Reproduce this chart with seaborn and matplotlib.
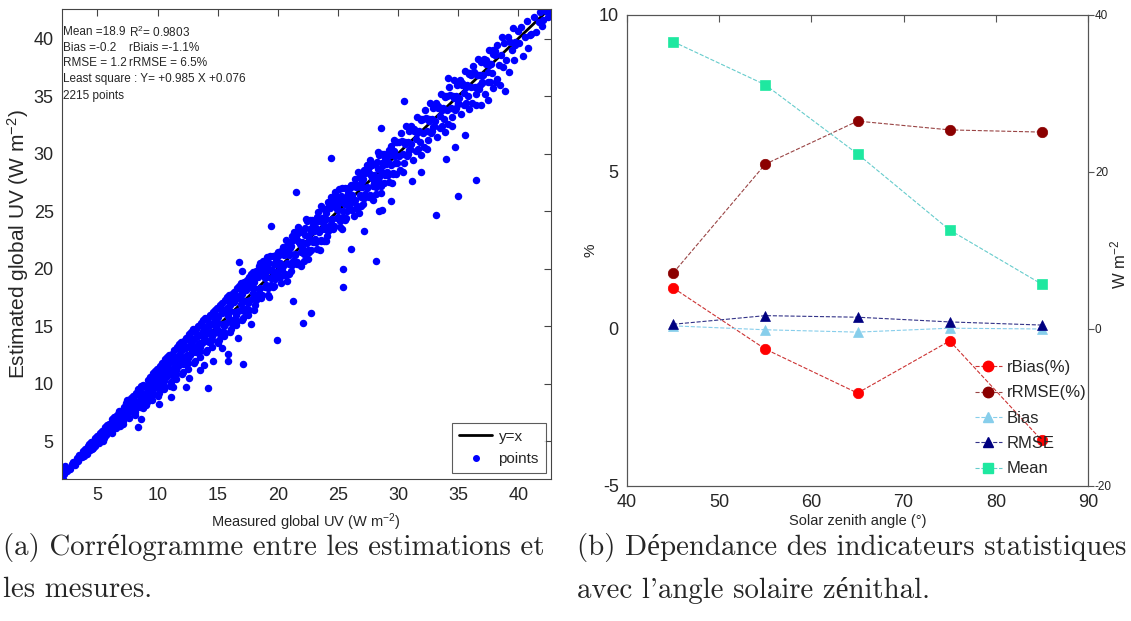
import matplotlib
matplotlib.use("Agg")
import matplotlib.pyplot as plt
import seaborn as sns
from matplotlib import font_manager
from matplotlib.lines import Line2D

sns.set_style("white")
installed = {f.name for f in font_manager.fontManager.ttflist}
sans = "Liberation Sans Narrow" if "Liberation Sans Narrow" in installed else "Liberation Sans"
plt.rcParams["font.family"] = [sans, "Liberation Sans", "DejaVu Sans"]
plt.rcParams["mathtext.default"] = "regular"
plt.rcParams["axes.unicode_minus"] = False

# ---- (a) measured vs estimated global UV (W m-2) ----
measured_uv = [
    2.0, 2.2, 2.3, 2.5, 2.7, 2.9,
    3.0, 3.1, 3.3, 3.4, 3.5, 3.7, 3.8, 3.9,
    4.0, 4.1, 4.2, 4.4, 4.5, 4.6, 4.7, 4.8, 4.9, 4.95,
    5.0, 5.1, 5.2, 5.3, 5.4, 5.5, 5.6, 5.7, 5.8, 5.9, 5.45, 5.75,
    6.0, 6.1, 6.2, 6.3, 6.4, 6.5, 6.6, 6.7, 6.8, 6.9, 6.25, 6.55, 6.85,
    7.0, 7.1, 7.2, 7.3, 7.4, 7.5, 7.6, 7.7, 7.8, 7.9, 7.15, 7.45, 7.65, 7.95,
    8.0, 8.1, 8.2, 8.3, 8.4, 8.5, 8.6, 8.7, 8.8, 8.9, 8.15, 8.45, 8.75, 8.35,
    9.0, 9.1, 9.2, 9.3, 9.4, 9.5, 9.6, 9.7, 9.8, 9.9, 9.05, 9.35, 9.55, 9.75, 9.95,
    10.0, 10.1, 10.2, 10.3, 10.4, 10.5, 10.6, 10.7, 10.8, 10.9, 10.05, 10.35, 10.55, 10.75, 10.95,
    11.0, 11.1, 11.2, 11.3, 11.4, 11.5, 11.6, 11.7, 11.8, 11.9, 11.05, 11.35, 11.55, 11.75, 11.95,
    12.0, 12.1, 12.2, 12.3, 12.4, 12.5, 12.6, 12.7, 12.8, 12.9, 12.05, 12.35, 12.55, 12.75, 12.95,
    13.0, 13.1, 13.2, 13.3, 13.4, 13.5, 13.6, 13.7, 13.8, 13.9, 13.05, 13.35, 13.55, 13.75, 13.95,
    14.0, 14.1, 14.2, 14.3, 14.4, 14.5, 14.6, 14.7, 14.8, 14.9, 14.05, 14.35, 14.55, 14.75, 14.95,
    15.0, 15.1, 15.2, 15.3, 15.4, 15.5, 15.6, 15.7, 15.8, 15.9, 15.05, 15.35, 15.55, 15.75, 15.95,
    16.0, 16.1, 16.2, 16.3, 16.4, 16.5, 16.6, 16.7, 16.8, 16.9, 16.05, 16.35, 16.55, 16.75, 16.95,
    17.0, 17.1, 17.2, 17.3, 17.4, 17.5, 17.6, 17.7, 17.8, 17.9, 17.05, 17.35, 17.55, 17.75, 17.95,
    18.0, 18.1, 18.2, 18.3, 18.4, 18.5, 18.6, 18.7, 18.8, 18.9, 18.05, 18.35, 18.55, 18.75, 18.95,
    19.02, 19.12, 19.18, 19.27, 19.38, 19.46, 19.58, 19.63, 19.71, 19.84, 19.93, 19.09, 19.31, 19.52, 19.77,
    20.0, 20.1, 20.2, 20.3, 20.4, 20.5, 20.6, 20.7, 20.8, 20.9, 20.05, 20.35, 20.55, 20.75, 20.95,
    21.02, 21.12, 21.18, 21.27, 21.38, 21.46, 21.58, 21.63, 21.71, 21.84, 21.93, 21.09, 21.31, 21.52, 21.77,
    22.0, 22.1, 22.2, 22.3, 22.4, 22.5, 22.6, 22.7, 22.8, 22.9, 22.05, 22.35, 22.55, 22.75, 22.95,
    23.02, 23.12, 23.18, 23.27, 23.38, 23.46, 23.58, 23.63, 23.71, 23.84, 23.93, 23.09, 23.31, 23.52, 23.77,
    24.0, 24.1, 24.2, 24.3, 24.4, 24.5, 24.6, 24.7, 24.8, 24.9, 24.05, 24.35, 24.55, 24.75, 24.95,
    25.02, 25.12, 25.18, 25.27, 25.38, 25.46, 25.58, 25.63, 25.71, 25.84, 25.93, 25.09, 25.31, 25.52, 25.77,
    26.0, 26.1, 26.2, 26.3, 26.4, 26.5, 26.6, 26.7, 26.8, 26.9, 26.05, 26.35, 26.55, 26.75, 26.95,
    27.02, 27.12, 27.18, 27.27, 27.38, 27.46, 27.58, 27.63, 27.71, 27.84, 27.93, 27.09, 27.31, 27.52, 27.77,
    28.0, 28.1, 28.2, 28.3, 28.4, 28.5, 28.6, 28.7, 28.8, 28.9, 28.05, 28.35, 28.55, 28.75, 28.95,
    29.02, 29.12, 29.18, 29.27, 29.38, 29.46, 29.58, 29.63, 29.71, 29.84, 29.93, 29.09, 29.31, 29.52, 29.77,
    30.05, 30.15, 30.25, 30.38, 30.45, 30.55, 30.68, 30.77, 30.85, 30.95,
    31.0, 31.12, 31.22, 31.33, 31.48, 31.58, 31.63, 31.72, 31.88, 31.92,
    32.05, 32.15, 32.25, 32.38, 32.45, 32.55, 32.68, 32.77, 32.85, 32.95,
    33.0, 33.12, 33.22, 33.33, 33.48, 33.58, 33.63, 33.72, 33.88, 33.92,
    34.05, 34.15, 34.25, 34.38, 34.45, 34.55, 34.68, 34.77, 34.85, 34.95,
    35.0, 35.12, 35.22, 35.33, 35.48, 35.58, 35.63, 35.72, 35.88, 35.92,
    36.05, 36.15, 36.25, 36.38, 36.45, 36.55, 36.68, 36.77, 36.85, 36.95,
    37.0, 37.12, 37.22, 37.33, 37.48, 37.58, 37.63, 37.72, 37.88, 37.92,
    38.05, 38.15, 38.25, 38.38, 38.45, 38.55, 38.68, 38.77,
    39.0, 39.12, 39.22, 39.33, 39.48, 39.58, 39.63, 39.72,
    40.1, 40.25, 40.4, 40.55, 40.7, 40.85, 40.95,
    41.1, 41.3, 41.5, 41.7, 41.85, 41.95,
    42.1, 42.3, 42.5, 42.65,
]
estimated_uv = [
    2.2, 2.1, 2.5, 2.4, 2.6, 3.0,
    3.2, 2.9, 3.5, 3.3, 3.8, 3.6, 4.1, 3.7,
    4.3, 3.9, 4.6, 4.2, 4.9, 4.4, 5.0, 4.6, 5.3, 4.8,
    5.4, 4.8, 5.7, 5.1, 5.9, 5.3, 6.2, 5.5, 6.4, 5.8, 5.0, 6.0,
    6.5, 5.8, 6.9, 6.1, 7.1, 6.4, 7.3, 6.6, 7.5, 6.9, 5.7, 7.0, 6.3,
    7.6, 6.7, 8.0, 7.2, 8.3, 7.4, 8.5, 7.6, 8.7, 7.9, 6.5, 8.6, 7.0, 8.9,
    8.6, 7.5, 9.2, 8.1, 9.5, 8.3, 9.8, 8.6, 9.9, 8.9, 7.3, 9.0, 7.9, 9.3,
    9.7, 8.4, 10.3, 9.0, 10.6, 9.3, 10.9, 9.6, 11.1, 10.0, 8.1, 10.0, 8.6, 10.4, 11.3,
    10.8, 9.2, 11.5, 9.9, 11.8, 10.2, 12.1, 10.6, 12.3, 11.0, 8.9, 10.9, 9.5, 11.4, 12.5,
    11.9, 10.1, 12.6, 10.8, 12.9, 11.2, 13.2, 11.5, 13.4, 12.0, 9.8, 12.0, 10.4, 12.5, 13.6,
    12.9, 11.0, 13.7, 11.8, 14.0, 12.2, 14.3, 12.5, 14.5, 13.0, 10.8, 13.1, 11.3, 13.6, 14.7,
    13.9, 12.0, 14.7, 12.7, 15.0, 13.2, 15.3, 13.5, 15.5, 14.0, 11.8, 14.1, 12.3, 14.6, 15.7,
    14.8, 12.9, 15.7, 13.6, 16.0, 14.1, 16.2, 14.4, 16.4, 14.9, 12.7, 15.1, 13.2, 15.6, 16.6,
    15.8, 13.8, 16.8, 14.5, 17.0, 15.0, 17.3, 15.3, 17.5, 15.9, 13.5, 16.1, 14.1, 16.6, 17.7,
    16.8, 14.7, 17.8, 15.5, 18.0, 16.0, 18.3, 16.3, 18.5, 16.9, 14.5, 17.1, 15.1, 17.6, 18.7,
    17.8, 15.7, 18.8, 16.5, 19.0, 17.0, 19.3, 17.3, 19.5, 17.9, 15.5, 18.1, 16.0, 18.6, 19.7,
    18.8, 16.8, 19.8, 17.7, 20.2, 18.3, 20.0, 17.7, 20.7, 19.2, 16.4, 19.3, 17.8, 20.0, 19.5,
    18.6, 20.3, 17.7, 19.9, 21.1, 18.6, 19.7, 21.1, 18.5, 20.7, 19.7, 21.0, 17.5, 19.9, 19.1,
    21.1, 19.3, 20.5, 18.7, 21.9, 21.2, 19.5, 22.5, 20.5, 19.5, 21.4, 19.9, 21.4, 18.9, 21.2,
    21.8, 19.8, 22.8, 20.7, 23.2, 21.3, 23.0, 20.6, 23.6, 22.1, 20.2, 22.0, 20.5, 22.7, 22.3,
    21.6, 23.3, 20.7, 22.9, 24.1, 21.6, 22.7, 24.2, 21.6, 23.8, 21.9, 24.3, 20.8, 23.2, 22.3,
    24.1, 22.3, 23.5, 21.7, 24.9, 24.2, 22.5, 25.4, 23.4, 22.4, 25.2, 22.6, 24.1, 21.6, 24.0,
    24.8, 22.8, 25.8, 23.7, 26.2, 24.3, 26.0, 23.7, 26.7, 25.2, 22.4, 25.3, 23.8, 26.0, 25.5,
    24.5, 26.2, 23.6, 25.8, 27.0, 24.5, 25.6, 27.0, 24.4, 26.6, 25.6, 26.9, 23.4, 25.8, 25.0,
    27.0, 25.2, 26.4, 24.6, 27.8, 27.1, 25.4, 28.4, 26.4, 25.4, 27.3, 25.8, 27.3, 24.8, 27.1,
    27.6, 25.6, 28.6, 26.5, 29.0, 27.1, 28.8, 26.4, 29.4, 27.9, 26.0, 27.8, 26.3, 28.5, 28.1,
    27.4, 29.1, 26.5, 28.7, 29.9, 27.4, 28.5, 30.0, 27.4, 29.6, 27.7, 30.1, 26.6, 29.0, 28.1,
    29.9, 28.1, 29.3, 27.5, 30.7, 30.0, 28.3, 31.2, 29.2, 28.2, 31.0, 28.4, 29.9, 27.4, 29.8,
    31.0, 28.6, 31.8, 30.0, 28.4, 31.0, 32.4, 29.8, 31.0, 30.3,
    30.4, 32.4, 29.4, 32.0, 31.3, 33.2, 30.4, 32.0, 29.9, 32.9,
    33.0, 30.6, 33.8, 32.0, 30.4, 33.0, 34.4, 31.8, 33.0, 32.3,
    32.4, 34.4, 31.4, 34.0, 33.3, 35.2, 32.4, 34.0, 31.9, 34.9,
    35.0, 32.6, 35.8, 34.0, 32.4, 35.0, 36.4, 33.8, 35.0, 34.3,
    34.4, 36.4, 33.4, 36.0, 35.3, 37.2, 34.4, 36.0, 33.9, 36.9,
    36.8, 34.4, 37.6, 35.8, 34.2, 36.8, 38.2, 35.6, 36.8, 36.1,
    36.2, 38.2, 35.2, 37.8, 37.1, 39.0, 36.2, 37.8, 35.7, 38.7,
    38.6, 36.2, 39.4, 37.7, 36.0, 38.6, 40.1, 37.5,
    38.1, 40.1, 37.1, 39.7, 39.0, 40.9, 38.1, 39.7,
    39.6, 41.0, 38.5, 40.1, 41.5, 39.2, 40.3,
    40.4, 41.9, 40.6, 41.4, 42.3, 41.1,
    41.6, 42.4, 41.9, 42.2,
]
# extra points filling the dense core of the band
core_measured = [
    4.03, 4.16, 4.29, 4.42, 4.57, 4.69, 4.82, 4.91,
    5.03, 5.16, 5.29, 5.42, 5.57, 5.69, 5.82, 5.91,
    6.03, 6.16, 6.29, 6.42, 6.57, 6.69, 6.82, 6.91,
    7.03, 7.16, 7.29, 7.42, 7.57, 7.69, 7.82, 7.91,
    8.03, 8.16, 8.29, 8.42, 8.57, 8.69, 8.82, 8.91,
    9.03, 9.16, 9.29, 9.42, 9.57, 9.69, 9.82, 9.91,
    10.03, 10.16, 10.29, 10.42, 10.57, 10.69, 10.82, 10.91,
    11.03, 11.16, 11.29, 11.42, 11.57, 11.69, 11.82, 11.91,
    12.03, 12.16, 12.29, 12.42, 12.57, 12.69, 12.82, 12.91,
    13.03, 13.16, 13.29, 13.42, 13.57, 13.69, 13.82, 13.91,
    14.03, 14.16, 14.29, 14.42, 14.57, 14.69, 14.82, 14.91,
    15.03, 15.16, 15.29, 15.42, 15.57, 15.69, 15.82, 15.91,
    16.03, 16.16, 16.29, 16.42, 16.57, 16.69, 16.82, 16.91,
    17.03, 17.16, 17.29, 17.42, 17.57, 17.69, 17.82, 17.91,
    18.03, 18.16, 18.29, 18.42, 18.57, 18.69, 18.82, 18.91,
    19.03, 19.16, 19.29, 19.42, 19.57, 19.69, 19.82, 19.91,
    20.03, 20.16, 20.29, 20.42, 20.57, 20.69, 20.82, 20.91,
    21.03, 21.16, 21.29, 21.42, 21.57, 21.69, 21.82, 21.91,
    22.03, 22.16, 22.29, 22.42, 22.57, 22.69, 22.82, 22.91,
    23.03, 23.16, 23.29, 23.42, 23.57, 23.69, 23.82, 23.91,
    24.03, 24.16, 24.29, 24.42, 24.57, 24.69, 24.82, 24.91,
    25.03, 25.16, 25.29, 25.42, 25.57, 25.69, 25.82, 25.91,
    26.03, 26.16, 26.29, 26.42, 26.57, 26.69, 26.82, 26.91,
    27.03, 27.16, 27.29, 27.42, 27.57, 27.69, 27.82, 27.91,
    28.03, 28.16, 28.29, 28.42, 28.57, 28.69, 28.82, 28.91,
    29.03, 29.16, 29.29, 29.42, 29.57, 29.69, 29.82, 29.91,
    30.1, 30.3, 30.5, 30.62, 30.8, 30.9,
    31.1, 31.3, 31.5, 31.62, 31.8, 31.9,
    32.1, 32.3, 32.5, 32.62, 32.8, 32.9,
    33.1, 33.3, 33.5, 33.62, 33.8, 33.9,
    34.1, 34.3, 34.5, 34.62, 34.8, 34.9,
    35.1, 35.3, 35.5, 35.62, 35.8, 35.9,
    36.1, 36.3, 36.5, 36.62, 36.8, 36.9,
    37.1, 37.3, 37.5, 37.62, 37.8, 37.9,
]
core_estimated = [
    4.1, 4.0, 4.7, 4.4, 4.3, 5.0, 5.3, 4.8,
    5.1, 5.0, 5.7, 5.4, 5.3, 6.0, 6.3, 5.8,
    6.2, 5.9, 6.9, 6.4, 6.1, 7.1, 7.6, 6.8,
    7.2, 6.9, 7.9, 7.4, 7.1, 8.1, 8.6, 7.8,
    8.2, 7.8, 9.1, 8.5, 8.0, 9.2, 9.8, 8.7,
    9.2, 8.8, 10.1, 9.5, 9.0, 10.2, 10.8, 9.7,
    10.3, 9.7, 11.3, 10.5, 9.8, 11.3, 12.0, 10.7,
    11.3, 10.7, 12.3, 11.5, 10.8, 12.3, 13.0, 11.7,
    12.3, 11.7, 13.3, 12.5, 11.8, 13.3, 14.0, 12.7,
    13.3, 12.7, 14.3, 13.5, 12.8, 14.3, 15.0, 13.7,
    14.3, 13.7, 15.3, 14.5, 13.8, 15.3, 16.0, 14.7,
    15.3, 14.3, 16.5, 15.2, 14.4, 16.4, 17.2, 15.4,
    16.3, 15.3, 17.5, 16.2, 15.4, 17.4, 18.2, 16.4,
    17.3, 16.3, 18.5, 17.2, 16.4, 18.4, 19.2, 17.4,
    18.3, 17.3, 19.5, 18.2, 17.4, 19.4, 20.2, 18.4,
    19.3, 18.3, 20.5, 19.2, 18.4, 20.4, 21.2, 19.4,
    20.3, 19.3, 21.5, 20.2, 19.4, 21.4, 22.2, 20.4,
    21.3, 20.3, 22.5, 21.2, 20.4, 22.4, 23.2, 21.4,
    22.3, 21.3, 23.5, 22.2, 21.4, 23.4, 24.2, 22.4,
    23.3, 22.3, 24.5, 23.2, 22.4, 24.4, 25.2, 23.4,
    24.3, 23.3, 25.5, 24.2, 23.4, 25.4, 26.2, 24.4,
    25.1, 24.1, 26.3, 25.0, 24.2, 26.2, 27.0, 25.2,
    26.1, 25.1, 27.3, 26.0, 25.2, 27.2, 28.0, 26.2,
    27.1, 26.1, 28.3, 27.0, 26.2, 28.2, 29.0, 27.2,
    28.1, 27.1, 29.3, 28.0, 27.2, 29.2, 30.0, 28.2,
    29.1, 28.1, 30.3, 29.0, 28.2, 30.2, 31.0, 29.2,
    29.8, 31.1, 29.2, 30.8, 30.0, 32.0,
    30.8, 32.1, 30.2, 31.8, 31.0, 33.0,
    31.8, 33.1, 31.2, 32.8, 32.0, 34.0,
    32.8, 34.1, 32.2, 33.8, 33.0, 35.0,
    33.8, 35.1, 33.2, 34.8, 34.0, 36.0,
    34.8, 36.1, 34.2, 35.8, 35.0, 37.0,
    35.8, 37.1, 35.2, 36.8, 36.0, 38.0,
    36.8, 38.1, 36.2, 37.8, 37.0, 39.0,
]
# isolated points away from the main band
outlier_measured = [
    2.1, 2.3, 2.0, 8.4, 8.6, 10.1, 11.1, 11.3, 12.4, 12.6, 13.5, 13.9, 14.2, 14.6,
    15.4, 15.9, 15.9, 16.7, 17.1, 17.8, 24.4, 21.5, 19.4, 16.8, 17.0, 18.5, 19.9,
    22.1, 22.8, 25.4, 25.4, 28.2, 21.3, 26.1, 28.4, 27.2, 28.6, 30.5, 34.2, 36.5,
    35.0, 33.2, 38.9, 40.0, 34.7, 35.6, 34.0, 31.9, 31.2, 29.4, 28.7, 37.5, 36.9,
    38.2, 38.8, 38.1, 39.7, 37.6, 36.6, 35.9,
]
outlier_estimated = [
    1.7, 2.8, 2.6, 6.2, 6.9, 8.2, 8.8, 9.7, 9.7, 10.5, 11.2, 11.6, 9.6, 12.0,
    13.1, 12.6, 12.0, 14.0, 11.7, 15.2, 29.6, 26.7, 23.7, 20.6, 19.8, 20.5, 13.8,
    15.3, 16.1, 18.4, 20.0, 20.7, 17.2, 21.7, 25.0, 23.3, 32.2, 34.6, 36.6, 27.7,
    26.3, 24.7, 35.4, 40.7, 30.6, 31.6, 29.5, 28.4, 27.6, 25.9, 25.1, 34.7, 34.2,
    36.5, 39.6, 38.9, 39.4, 37.7, 35.8, 37.0,
]
stats_left = ["Mean =18.9", "Bias =-0.2", "RMSE = 1.2",
              "Least square : Y= +0.985 X +0.076", "2215 points"]
stats_right = ["R$^2$= 0.9803", "rBiais =-1.1%", "rRMSE = 6.5%"]
legend_a_labels = ["y=x", "points"]

# ---- (b) statistics versus solar zenith angle ----
zenith_angle = [45, 55, 65, 75, 85]
rbias_pct = [1.31, -0.64, -2.04, -0.38, -3.55]
rrmse_pct = [1.78, 5.25, 6.62, 6.34, 6.27]
bias_wm2 = [0.4, -0.1, -0.4, 0.1, 0.0]
rmse_wm2 = [0.6, 1.7, 1.5, 0.9, 0.5]
mean_wm2 = [36.6, 31.1, 22.3, 12.6, 5.7]

caption_a = ["(a) Corrélogramme entre les estimations et", "les mesures."]
caption_b = ["(b) Dépendance des indicateurs statistiques", "avec l'angle solaire zénithal."]

fig = plt.figure(figsize=(11.31, 6.21), dpi=100)

# panel (a)
ax_a = fig.add_axes([0.0548, 0.2287, 0.4321, 0.7564])
all_x = measured_uv + core_measured + outlier_measured
all_y = estimated_uv + core_estimated + outlier_estimated
sns.scatterplot(x=all_x, y=all_y, ax=ax_a, color="#0000ff", s=29, linewidth=0,
                zorder=2, legend=False)
ax_a.axline((0, 0), slope=1, color="black", linewidth=2, zorder=1)
ax_a.set_xlim(2.05, 42.7)
ax_a.set_ylim(1.7, 42.55)
ax_a.set_xticks(range(5, 45, 5))
ax_a.set_yticks(range(5, 45, 5))
ax_a.tick_params(direction="in", top=True, right=True, length=5, width=0.8,
                 color="#444444", labelsize=13, pad=6)
for sp in ax_a.spines.values():
    sp.set_color("#444444")
    sp.set_linewidth(0.8)
ax_a.set_xlabel("Measured global UV (W m$^{-2}$)", fontsize=10.5)
ax_a.set_ylabel("Estimated global UV (W m$^{-2}$)", fontsize=15)
ax_a.xaxis.set_label_coords(0.5, -0.07)
ax_a.yaxis.set_label_coords(-0.063, 0.5)

line_rows = [0.951, 0.917, 0.885, 0.851, 0.815]
for txt, yy in zip(stats_left, line_rows):
    ax_a.text(0.003, yy, txt, transform=ax_a.transAxes, fontsize=8.5, va="center", ha="left")
for txt, yy in zip(stats_right, line_rows):
    ax_a.text(0.137, yy, txt, transform=ax_a.transAxes, fontsize=8.5, va="center", ha="left")

handles_a = [Line2D([], [], color="black", lw=2),
             Line2D([], [], color="#0000ff", marker="o", ls="none", markersize=4)]
leg_a = ax_a.legend(handles_a, legend_a_labels, loc="lower right", bbox_to_anchor=(0.99, 0.013),
                    borderaxespad=0, frameon=True, fancybox=False, fontsize=11,
                    handlelength=2.2, handletextpad=0.4, labelspacing=0.55, borderpad=0.45)
leg_a.get_frame().set_edgecolor("#333333")
leg_a.get_frame().set_linewidth(0.8)

# panel (b)
ax_b = fig.add_axes([0.5544, 0.2174, 0.4076, 0.7585])
ax_r = ax_b.twinx()
series_b = [
    (ax_b, rbias_pct, "rBias(%)", "o", "#ff0000", "#cc3333"),
    (ax_b, rrmse_pct, "rRMSE(%)", "o", "#8b0000", "#994444"),
    (ax_r, bias_wm2, "Bias", "^", "#87ceeb", "#87ceeb"),
    (ax_r, rmse_wm2, "RMSE", "^", "#000080", "#333388"),
    (ax_r, mean_wm2, "Mean", "s", "#1ee8a0", "#66cccc"),
]
handles_b = []
for target, values, name, mk, mcol, lcol in series_b:
    sns.lineplot(x=zenith_angle, y=values, ax=target, color=lcol, linestyle="--", linewidth=0.8,
                 marker=mk, markersize=7.5, markerfacecolor=mcol, markeredgecolor=mcol,
                 markeredgewidth=0.5)
    handles_b.append(Line2D([], [], color=lcol, linestyle="--", linewidth=0.8, marker=mk,
                            markersize=7.5, markerfacecolor=mcol, markeredgecolor=mcol))
    if target.get_legend() is not None:
        target.get_legend().remove()

ax_b.set_xlim(40, 90)
ax_b.set_ylim(-5, 10)
ax_r.set_ylim(-20, 40)
ax_b.set_xticks(range(40, 100, 10))
ax_b.set_yticks([-5, 0, 5, 10])
ax_r.set_yticks([-20, 0, 20, 40])
ax_b.tick_params(axis="x", direction="in", top=True, length=5, width=0.8, color="#555555",
                 labelsize=13, pad=6)
ax_b.tick_params(axis="y", length=0, labelsize=13, pad=6)
ax_r.tick_params(axis="y", direction="out", length=4, width=0.8, color="#555555",
                 labelsize=8.5, pad=1)
for axx in (ax_b, ax_r):
    for sp in axx.spines.values():
        sp.set_color("#555555")
        sp.set_linewidth(0.8)
ax_b.set_xlabel("Solar zenith angle (°)", fontsize=10.5)
ax_b.set_ylabel("%", fontsize=11)
ax_r.set_ylabel("W m$^{-2}$", fontsize=12)
ax_b.xaxis.set_label_coords(0.5, -0.059)
ax_b.yaxis.set_label_coords(-0.063, 0.5)
ax_r.yaxis.set_label_coords(1.045, 0.47)

ax_r.legend(handles_b, [s[2] for s in series_b], loc="upper left",
            bbox_to_anchor=(975 / 1131, 1 - 360 / 621), bbox_transform=fig.transFigure,
            frameon=False, fontsize=12, handlelength=1.6, handletextpad=0.3,
            labelspacing=0.62, borderpad=0, borderaxespad=0)

cap_font = ["cmr10", "Liberation Serif"]
for i, (ta, tb) in enumerate(zip(caption_a, caption_b)):
    yy = 1 - (547 + 43 * i) / 621
    fig.text(3 / 1131, yy, ta, fontsize=20.8, family=cap_font, va="center", ha="left")
    fig.text(577 / 1131, yy, tb, fontsize=20.8, family=cap_font, va="center", ha="left")

fig.savefig("out.png", dpi=100)
